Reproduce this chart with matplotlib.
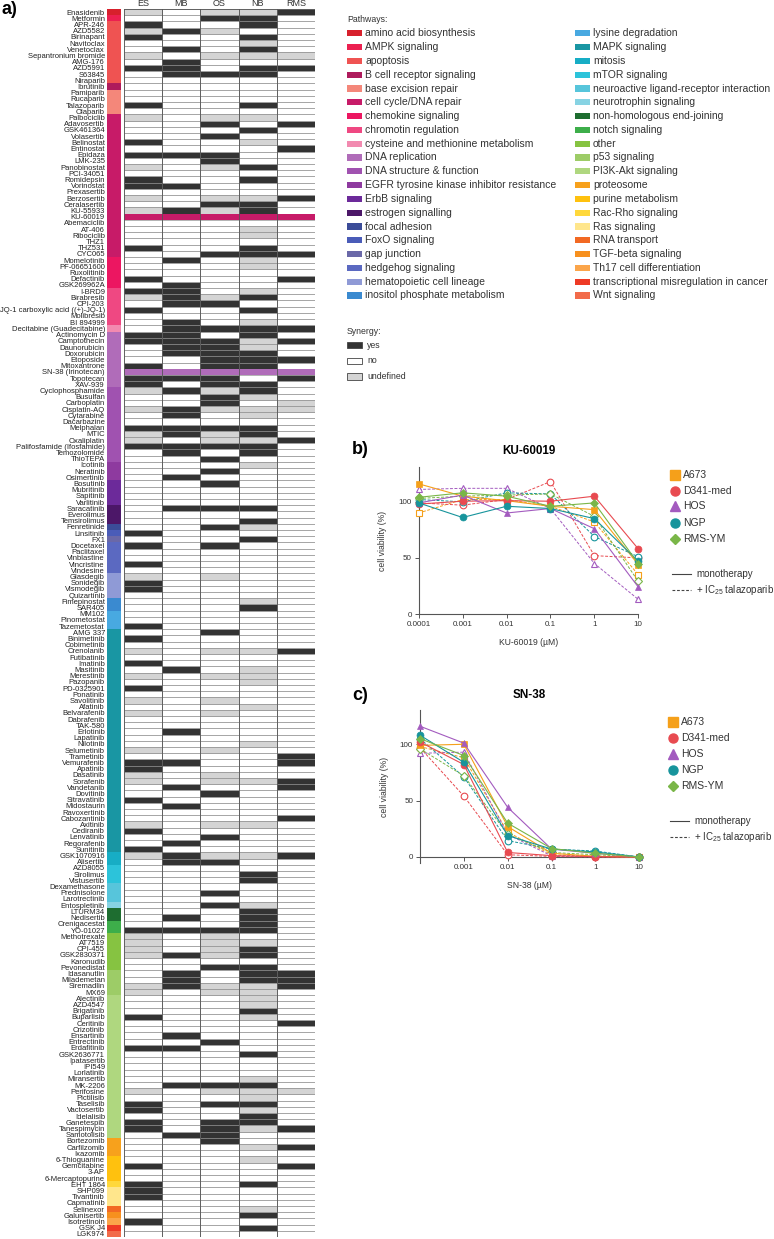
import matplotlib
matplotlib.use('Agg')
import matplotlib.pyplot as plt
from matplotlib.patches import Rectangle
from matplotlib.lines import Line2D
import numpy as np

plt.rcParams['font.family'] = ['Liberation Sans', 'DejaVu Sans']
plt.rcParams['mathtext.fontset'] = 'custom'
plt.rcParams['mathtext.rm'] = 'Liberation Sans'
plt.rcParams['mathtext.it'] = 'Liberation Sans'

W, H = 774, 1239

# ---------------- data: panel a ----------------
columns = ['ES', 'MB', 'OS', 'NB', 'RMS']

drugs = [
    'Enasidenib', 'Metformin', 'APR-246', 'AZD5582', 'Birinapant', 'Navitoclax', 'Venetoclax',
    'Sepantronium bromide', 'AMG-176', 'AZD5991', 'S63845', 'Niraparib', 'Ibrutinib', 'Pamiparib',
    'Rucaparib', 'Talazoparib', 'Olaparib', 'Palbociclib', 'Adavosertib', 'GSK461364', 'Volasertib',
    'Belinostat', 'Entinostat', 'Epidaza', 'LMK-235', 'Panobinostat', 'PCI-34051', 'Romidepsin',
    'Vorinostat', 'Prexasertib', 'Berzosertib', 'Ceralasertib', 'KU-55933', 'KU-60019', 'Abemaciclib',
    'AT-406', 'Ribociclib', 'THZ1', 'THZ531', 'CYC065', 'Momelotinib', 'PF-06651600', 'Ruxolitinib',
    'Defactinib', 'GSK269962A', 'I-BRD9', 'Birabresib', 'CPI-203', 'JQ-1 carboxylic acid ((+)-JQ-1)',
    'Molibresib', 'BI 894999', 'Decitabine (Guadecitabine)', 'Actinomycin D', 'Camptothecin',
    'Daunorubicin', 'Doxorubicin', 'Etoposide', 'Mitoxantrone', 'SN-38 (Irinotecan)', 'Topotecan',
    'XAV-939', 'Cyclophosphamide', 'Busulfan', 'Carboplatin', 'Cisplatin-AQ', 'Cytarabine',
    'Dacarbazine', 'Melphalan', 'MTIC', 'Oxaliplatin', 'Palifosfamide (Ifosfamide)', 'Temozolomide',
    'ThioTEPA', 'Icotinib', 'Neratinib', 'Osimertinib', 'Bosutinib', 'Mubritinib', 'Sapitinib',
    'Varlitinib', 'Saracatinib', 'Everolimus', 'Temsirolimus', 'Fenretinide', 'Linsitinib', 'FX1',
    'Docetaxel', 'Paclitaxel', 'Vinblastine', 'Vincristine', 'Vindesine', 'Glasdegib', 'Sonidegib',
    'Vismodegib', 'Quizartinib', 'Fimepinostat', 'SAR405', 'MM102', 'Pinometostat', 'Tazemetostat',
    'AMG 337', 'Binimetinib', 'Cobimetinib', 'Crenolanib', 'Futibatinib', 'Imatinib', 'Masitinib',
    'Merestinib', 'Pazopanib', 'PD-0325901', 'Ponatinib', 'Savolitinib', 'Afatinib', 'Belvarafenib',
    'Dabrafenib', 'TAK-580', 'Erlotinib', 'Lapatinib', 'Nilotinib', 'Selumetinib', 'Trametinib',
    'Vemurafenib', 'Apatinib', 'Dasatinib', 'Sorafenib', 'Vandetanib', 'Dovitinib', 'Sitravatinib',
    'Midostaurin', 'Ravoxertinib', 'Cabozantinib', 'Axitinib', 'Cediranib', 'Lenvatinib',
    'Regorafenib', 'Sunitinib', 'GSK1070916', 'Alisertib', 'AZD8055', 'Sirolimus', 'Vistusertib',
    'Dexamethasone', 'Prednisolone', 'Larotrectinib', 'Entospletinib', 'LTURM34', 'Nedisertib',
    'Crenigacestat', 'YO-01027', 'Methotrexate', 'AT7519', 'CPI-455', 'GSK2830371', 'Karonudib',
    'Pevonedistat', 'Idasanutlin', 'Milademetan', 'Siremadlin', 'MX69', 'Alectinib', 'AZD4547',
    'Brigatinib', 'Buparlisib', 'Ceritinib', 'Crizotinib', 'Ensartinib', 'Entrectinib', 'Erdafitinib',
    'GSK2636771', 'Ipatasertib', 'IPI549', 'Lorlatinib', 'Miransertib', 'MK-2206', 'Perifosine',
    'Pictilisib', 'Taselisib', 'Vactosertib', 'Idelalisib', 'Ganetespib', 'Tanespimycin',
    'Samotolisib', 'Bortezomib', 'Carfilzomib', 'Ixazomib', '6-Thioguanine', 'Gemcitabine', '3-AP',
    '6-Mercaptopurine', 'EHT 1864', 'SHP099', 'Tivantinib', 'Capmatinib', 'Selinexor', 'Galunisertib',
    'Isotretinoin', 'GSK J4', 'LGK974',
]

# synergy codes per drug, order ES MB OS NB RMS : Y yes, N no, U undefined, H highlighted row
synergy = [
    'UNUUY', 'NNYYN', 'YNNYN', 'UYUNN', 'YNNYN', 'NNNUN', 'NYNYN', 'UNUUU', 'NYNNN', 'YYNYY',
    'NYYYN', 'NNNNN', 'NNNNN', 'NNNNN', 'NNNNN', 'YNNYN', 'NNNNN', 'UNUUN', 'NNYNY', 'NNNYN',
    'NNYNN', 'YNNUN', 'NNNNY', 'YYYNN', 'NNYNN', 'UNUYN', 'NNNNN', 'YNNYN', 'YYNNN', 'NNNNN',
    'UNUUY', 'NNYYN', 'UYUYN', 'HHHHH', 'NNNNN', 'NNNUN', 'NNNUN', 'NNNNN', 'YNNYN', 'NNYYY',
    'NYNUN', 'NNNUN', 'NNNNN', 'YNNNY', 'NYNNN', 'YYNUN', 'UYUYN', 'NYYNN', 'YNNYN', 'NNNNN',
    'NYNUN', 'NYYYY', 'YYNYN', 'YYYUY', 'NYYUN', 'NYYYN', 'NNYYY', 'YNYYN', 'HHHHH', 'YYYNY',
    'YNYYN', 'UYUYN', 'NNYUN', 'NNYNU', 'UYUUU', 'NYNUN', 'NNNNN', 'YYYYN', 'UYUYN', 'UNUUY',
    'YYYYN', 'NYNYN', 'NNYNN', 'NNNUN', 'NNYNN', 'NYNNN', 'NNYNN', 'NNNNN', 'NNNNN', 'NNNNN',
    'NYYYN', 'NNNNN', 'NNNYN', 'NNYUN', 'YNNNN', 'NNNYN', 'YNYNN', 'NNNNN', 'NNNNN', 'YNNNN',
    'NNNNN', 'UNUNN', 'YNNNN', 'YNNNN', 'NNNNN', 'NNNUN', 'NNNYN', 'NNNNN', 'NNNNN', 'YNNNN',
    'NNYNN', 'YNNNN', 'NNNNN', 'UNUUY', 'NNNNN', 'YNNNN', 'NYNUN', 'UNUUN', 'NNNUN', 'YNNNN',
    'NNNNN', 'UNUNN', 'NNNUN', 'UNUNN', 'NNNNN', 'NNNNN', 'NYNNN', 'NNNNN', 'NNNUN', 'UNUNN',
    'NNNNY', 'YYNNY', 'YNNNN', 'UNUNN', 'UNUUY', 'NYNNY', 'NNYNN', 'YNNNN', 'NYNNN', 'NNNNN',
    'NNNNY', 'UNUUN', 'YNNNN', 'NNYNN', 'NYNNN', 'YNNNN', 'UYUUY', 'NYYNN', 'NNNNN', 'NNNYN',
    'NNNYN', 'NNNNN', 'NNYNN', 'NNNNN', 'NNYUN', 'NNNYN', 'NYNYN', 'NNNYN', 'YYYYN', 'UNUNN',
    'UNUUN', 'UNUYN', 'UYUYN', 'NNNNN', 'NNYYN', 'NYNYY', 'NYNYY', 'UYUUY', 'UNUUN', 'NNNUN',
    'NNNUN', 'NNNYN', 'YNNUN', 'NNNNY', 'NNNNN', 'NYNNN', 'NNYNN', 'YYNNN', 'NNNYN', 'NNNNN',
    'NNNNN', 'NNNNN', 'NNNUN', 'NYYYN', 'UNUUU', 'NNNUN', 'YNYYN', 'YNNUN', 'NNNYN', 'YNYYN',
    'YNYUY', 'NYYNN', 'NNYNN', 'NNNUY', 'NNNNN', 'NNNUN', 'YNNNY', 'NNNNN', 'NNNNN', 'YNNYN',
    'YNNNN', 'YNNNN', 'NNNNN', 'NNNUN', 'NNNYN', 'YNNNN', 'NNNYN', 'NNNNN',
]

pathway_names = [
    'amino acid biosynthesis', 'AMPK signaling', 'apoptosis', 'B cell receptor signaling',
    'base excision repair', 'cell cycle/DNA repair', 'chemokine signaling', 'chromotin regulation',
    'cysteine and methionine metabolism', 'DNA replication', 'DNA structure & function',
    'EGFR tyrosine kinase inhibitor resistance', 'ErbB signaling', 'estrogen signalling',
    'focal adhesion', 'FoxO signaling', 'gap junction', 'hedgehog signaling',
    'hematopoietic cell lineage', 'inositol phosphate metabolism', 'lysine degradation',
    'MAPK signaling', 'mitosis', 'mTOR signaling', 'neuroactive ligand-receptor interaction',
    'neurotrophin signaling', 'non-homologous end-joining', 'notch signaling', 'other',
    'p53 signaling', 'PI3K-Akt signaling', 'proteosome', 'purine metabolism', 'Rac-Rho signaling',
    'Ras signaling', 'RNA transport', 'TGF-beta signaling', 'Th17 cell differentiation',
    'transcriptional misregulation in cancer', 'Wnt signaling',
]
pathway_colors = [
    '#d7202c', '#ec2050', '#ef5352', '#ae1b5c', '#f4877a', '#c71b68', '#ec1661', '#ef4882',
    '#f28ab0', '#b06cb9', '#a052b0', '#8e3a9f', '#6c2a9a', '#4c1768', '#3b4c98', '#4a5cb8',
    '#6a68a8', '#5b69c1', '#8f9ad6', '#3a8ad0', '#48a9e1', '#1996a3', '#17adc5', '#2cc3da',
    '#57c5db', '#87d3e3', '#1e6d30', '#3dae4a', '#86c341', '#9dcc67', '#afd77f', '#f7a11c',
    '#ffc10e', '#ffd83b', '#ffe68c', '#f26923', '#f7901e', '#fba54a', '#ee3a25', '#f26b4a',
]
pathway_counts = [1, 1, 10, 1, 4, 23, 5, 6, 1, 9, 12, 3, 4, 3, 1, 1, 1, 5, 4, 2, 3, 36, 2, 3,
                  3, 1, 2, 2, 6, 4, 23, 3, 4, 1, 3, 1, 1, 1, 1, 1]

synergy_labels = ['yes', 'no', 'undefined']
synergy_codes = ['Y', 'N', 'U']
synergy_colors = ['#333333', '#ffffff', '#d4d4d4']

# ---------------- data: panels b, c ----------------
cell_lines = ['A673', 'D341-med', 'HOS', 'NGP', 'RMS-YM']
line_colors = ['#f5a01a', '#e84a50', '#a35bbf', '#17949c', '#7ab648']
line_markers = ['s', 'o', '^', 'o', 'D']
conc = [1e-4, 1e-3, 1e-2, 1e-1, 1, 10]

ku_mono = {
    'A673':     [116, 105, 101, 96, 93, 44],
    'D341-med': [98, 100.5, 101, 100.5, 105, 58],
    'HOS':      [99, 106, 90, 94, 76, 24],
    'NGP':      [99, 86, 96, 94, 85, 47],
    'RMS-YM':   [104, 108, 105, 96, 99, 45],
}
ku_combo = {
    'A673':     [90, 102, 102, 96, 82, 35],
    'D341-med': [99, 97, 102, 118, 52, 50],
    'HOS':      [111, 112, 112, 94, 45, 13],
    'NGP':      [102, 100, 108, 107, 69, 51],
    'RMS-YM':   [103, 105, 106, 107, 87, 29],
}
sn_mono = {
    'A673':     [99, 100, 27, 3.3, 0.6, 0],
    'D341-med': [102, 82, 4, 1.2, 0.3, 0],
    'HOS':      [116, 101, 44, 7, 3.3, 0],
    'NGP':      [108, 84, 19, 7, 4.5, 0],
    'RMS-YM':   [105, 90, 30, 7.5, 3.3, 0],
}
sn_combo = {
    'A673':     [98, 88, 22, 2, 0.5, 0],
    'D341-med': [97, 54, 2, 0.5, 0, 0],
    'HOS':      [92, 93, 20, 1, 0.5, 0],
    'NGP':      [105, 71, 14.5, 7, 5.3, 0],
    'RMS-YM':   [96, 72, 20, 4, 2, 0],
}


def fx(px):
    return px / W


def fy(py):
    return 1 - py / H


fig = plt.figure(figsize=(W / 100, H / 100), dpi=100)

# ---------------- panel a: heatmap ----------------
top_px, bot_px = 9, 1237
ax_h = fig.add_axes([fx(124), fy(bot_px), fx(315) - fx(124), fy(top_px) - fy(bot_px)])
ax_s = fig.add_axes([fx(107), fy(bot_px), fx(121) - fx(107), fy(top_px) - fy(bot_px)])

row_pathway = []
for name, cnt in zip(pathway_names, pathway_counts):
    row_pathway += [name] * cnt
pcol = dict(zip(pathway_names, pathway_colors))
n = len(drugs)
rows = np.arange(n)

ax_s.barh(rows, 1, height=1, left=0, color=[pcol[p] for p in row_pathway], linewidth=0)
ax_s.set_xlim(0, 1)
ax_s.set_ylim(n - 0.5, -0.5)
ax_s.set_yticks(rows)
ax_s.set_yticklabels(drugs, fontsize=5.5, color='#222222')
ax_s.tick_params(axis='y', length=0, pad=1.5)
ax_s.set_xticks([])
for sp in ax_s.spines.values():
    sp.set_visible(False)

for j, col in enumerate(columns):
    codes = [s[j] for s in synergy]
    for code, c in zip(synergy_codes, synergy_colors):
        idx = [i for i, cc in enumerate(codes) if cc == code]
        if idx:
            ax_h.barh(idx, 1, left=j, height=1, color=c, edgecolor='#8a8a8a', linewidth=0.45)
hl = [i for i, s in enumerate(synergy) if s == 'HHHHH']
ax_h.barh(hl, len(columns), left=0, height=1, color=[pcol[row_pathway[i]] for i in hl], linewidth=0)
for j in range(len(columns) + 1):
    ax_h.axvline(j, color='#555555', lw=0.6)
ax_h.axhline(-0.5, color='#555555', lw=0.6)
ax_h.axhline(n - 0.5, color='#555555', lw=0.6)
ax_h.set_xlim(0, len(columns))
ax_h.set_ylim(n - 0.5, -0.5)
ax_h.set_yticks([])
ax_h.xaxis.tick_top()
ax_h.set_xticks(np.arange(len(columns)) + 0.5)
ax_h.set_xticklabels(columns, fontsize=6.5, color='#333333')
ax_h.tick_params(axis='x', length=0, pad=0.5)
for sp in ax_h.spines.values():
    sp.set_visible(False)

fig.text(fx(1), fy(10), 'a)', fontsize=13, fontweight='bold', va='center', ha='left')

# ---------------- pathway legend ----------------
fig.text(fx(347), fy(19), 'Pathways:', fontsize=6.3, color='#333333', va='center')
for i, (name, c) in enumerate(zip(pathway_names, pathway_colors)):
    colx = 347 if i < 20 else 575
    yc = 33.3 + 13.8 * (i % 20)
    fig.add_artist(Rectangle((fx(colx), fy(yc + 3)), 15 / W, 6 / H, transform=fig.transFigure,
                             facecolor=c, edgecolor='none'))
    fig.text(fx(colx + 18), fy(yc), name, fontsize=7.5, color='#333333', va='center', ha='left')

fig.text(fx(347), fy(331), 'Synergy:', fontsize=6.3, color='#333333', va='center')
for k, (lab, c) in enumerate(zip(synergy_labels, synergy_colors)):
    yc = 345.5 + 15.5 * k
    fig.add_artist(Rectangle((fx(347), fy(yc + 3)), 15 / W, 6 / H, transform=fig.transFigure,
                             facecolor=c, edgecolor='#444444', linewidth=0.6))
    fig.text(fx(367), fy(yc), lab, fontsize=6.3, color='#333333', va='center', ha='left')


# ---------------- panels b, c ----------------
def dose_panel(ax, mono, combo, xlabel, title, show_first_tick):
    for cl, c, m in zip(cell_lines, line_colors, line_markers):
        ax.plot(conc, combo[cl], color=c, lw=0.7, ls=(0, (3, 1.6)), marker=m, ms=4.8 if m != 'D' else 4.0,
                mfc='white', mec=c, mew=0.8, clip_on=False, zorder=3)
    for cl, c, m in zip(cell_lines, line_colors, line_markers):
        ax.plot(conc, mono[cl], color=c, lw=0.8, ls='-', marker=m, ms=5.0 if m != 'D' else 4.2,
                mfc=c, mec=c, mew=0.5, clip_on=False, zorder=4)
    ax.set_xscale('log')
    ax.set_xlim(1e-4, 10)
    ax.minorticks_off()
    if show_first_tick:
        ax.set_xticks(conc)
        ax.set_xticklabels(['0.0001', '0.001', '0.01', '0.1', '1', '10'])
    else:
        ax.set_xticks(conc[1:])
        ax.set_xticklabels(['0.001', '0.01', '0.1', '1', '10'])
    ax.set_yticks([0, 50, 100])
    ax.tick_params(labelsize=5.8, length=3, width=0.7, color='#555555', labelcolor='#333333', pad=2)
    for sp in ['top', 'right']:
        ax.spines[sp].set_visible(False)
    for sp in ['left', 'bottom']:
        ax.spines[sp].set_color('#555555')
        ax.spines[sp].set_linewidth(0.8)
    ax.set_xlabel(xlabel, fontsize=6.2, color='#333333', labelpad=7)
    ax.set_ylabel('cell viability (%)', fontsize=6.2, color='#333333', labelpad=8)
    ax.set_title(title, fontsize=8.4, fontweight='bold', pad=9)


ax_b = fig.add_axes([fx(418.7), fy(614), fx(638.3) - fx(418.7), fy(467) - fy(614)])
ax_b.set_ylim(0, 131)
dose_panel(ax_b, ku_mono, ku_combo, 'KU-60019 (µM)', 'KU-60019', True)

ax_c = fig.add_axes([fx(420), fy(863.3), fx(639.3) - fx(420), fy(710) - fy(863.3)])
ax_c.set_ylim(-5.6, 130.4)
ax_c.spines['bottom'].set_position(('data', 0))
dose_panel(ax_c, sn_mono, sn_combo, 'SN-38 (µM)', 'SN-38', False)

fig.text(fx(352), fy(450), 'b)', fontsize=13, fontweight='bold', va='center', ha='left')
fig.text(fx(352), fy(695), 'c)', fontsize=13, fontweight='bold', va='center', ha='left')


def panel_legend(x0, y0, yline):
    for k, (cl, c, m) in enumerate(zip(cell_lines, line_colors, line_markers)):
        yc = y0 + 16 * k
        fig.add_artist(Line2D([fx(x0)], [fy(yc)], marker=m, ms=6.5 if m != 'D' else 5.2, color=c,
                              transform=fig.transFigure, ls='none'))
        fig.text(fx(x0 + 8), fy(yc), cl, fontsize=7.5, color='#333333', va='center', ha='left')
    fig.add_artist(Line2D([fx(x0 - 3), fx(x0 + 16)], [fy(yline), fy(yline)], color='#444444', lw=0.8,
                          transform=fig.transFigure))
    fig.text(fx(x0 + 21), fy(yline), 'monotherapy', fontsize=7.0, color='#333333', va='center')
    fig.add_artist(Line2D([fx(x0 - 3), fx(x0 + 16)], [fy(yline + 16), fy(yline + 16)], color='#444444',
                          lw=0.8, ls=(0, (2.5, 1.6)), transform=fig.transFigure))
    fig.text(fx(x0 + 21), fy(yline + 16), '+ IC$_{25}$ talazoparib', fontsize=7.0, color='#333333',
             va='center')


panel_legend(675, 474.5, 574)
panel_legend(673, 722, 821)

fig.savefig('out.png', dpi=100)
